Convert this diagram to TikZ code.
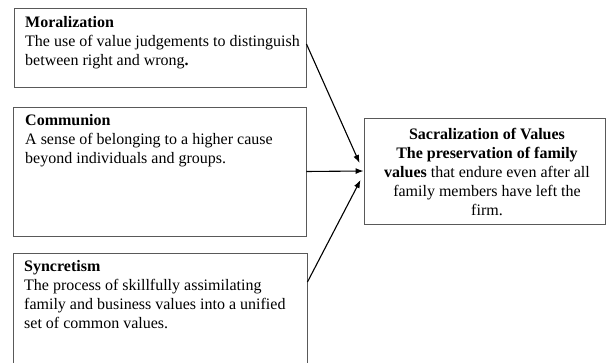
\documentclass[tikz,border=0pt]{standalone}
\usepackage{fontspec}
\setmainfont{Liberation Serif}
\usetikzlibrary{arrows.meta}
\begin{document}
\begin{tikzpicture}[x=1pt,y=-1pt,
  box/.style={draw=black!65, line width=0.9pt, rectangle, inner sep=0pt},
  txt/.style={inner sep=0pt, font=\fontsize{16}{19}\selectfont},
  conn/.style={line width=1.1pt, -{Latex[length=8pt,width=6pt]}}]
\clip (0,0) rectangle (608,363);
\fill[white] (0,0) rectangle (608,363);
\node[box, minimum width=292pt, minimum height=79pt] (m) at (160,47.5) {};
\node[box, minimum width=293pt, minimum height=129pt] (c) at (159.5,171.5) {};
\node[box, minimum width=294pt, minimum height=130pt] (s) at (160,318) {};
\node[box, minimum width=241pt, minimum height=106pt] (v) at (484.5,171) {};
% base anchor of a multi-line node = baseline of its last line
\node[txt, anchor=base west, align=left] (mt) at (25,65.5) {\textbf{Moralization}\\The use of value judgements to distinguish\\between right and wrong\textbf{.}};
\node[txt, anchor=base west, align=left] (ct) at (25,164) {\textbf{Communion}\\A sense of belonging to a higher cause\\beyond individuals and groups.};
\node[txt, anchor=base west, align=left] (st) at (24,329) {\textbf{Syncretism}\\The process of skillfully assimilating\\family and business values into a unified\\set of common values.};
\node[txt, anchor=base, align=center] (vt) at (487,215.5) {\textbf{Sacralization of Values}\\\textbf{The preservation of family}\\\textbf{values} that endure even after all\\family members have left the\\firm.};
\draw[conn] ([yshift=3.5pt]m.east) -- ([xshift=-4pt,yshift=8pt]v.west);
\draw[conn] (c.east) -- (v.west);
\draw[conn] ([yshift=36pt]s.east) -- ([xshift=-3pt,yshift=-9pt]v.west);
\end{tikzpicture}
\end{document}
